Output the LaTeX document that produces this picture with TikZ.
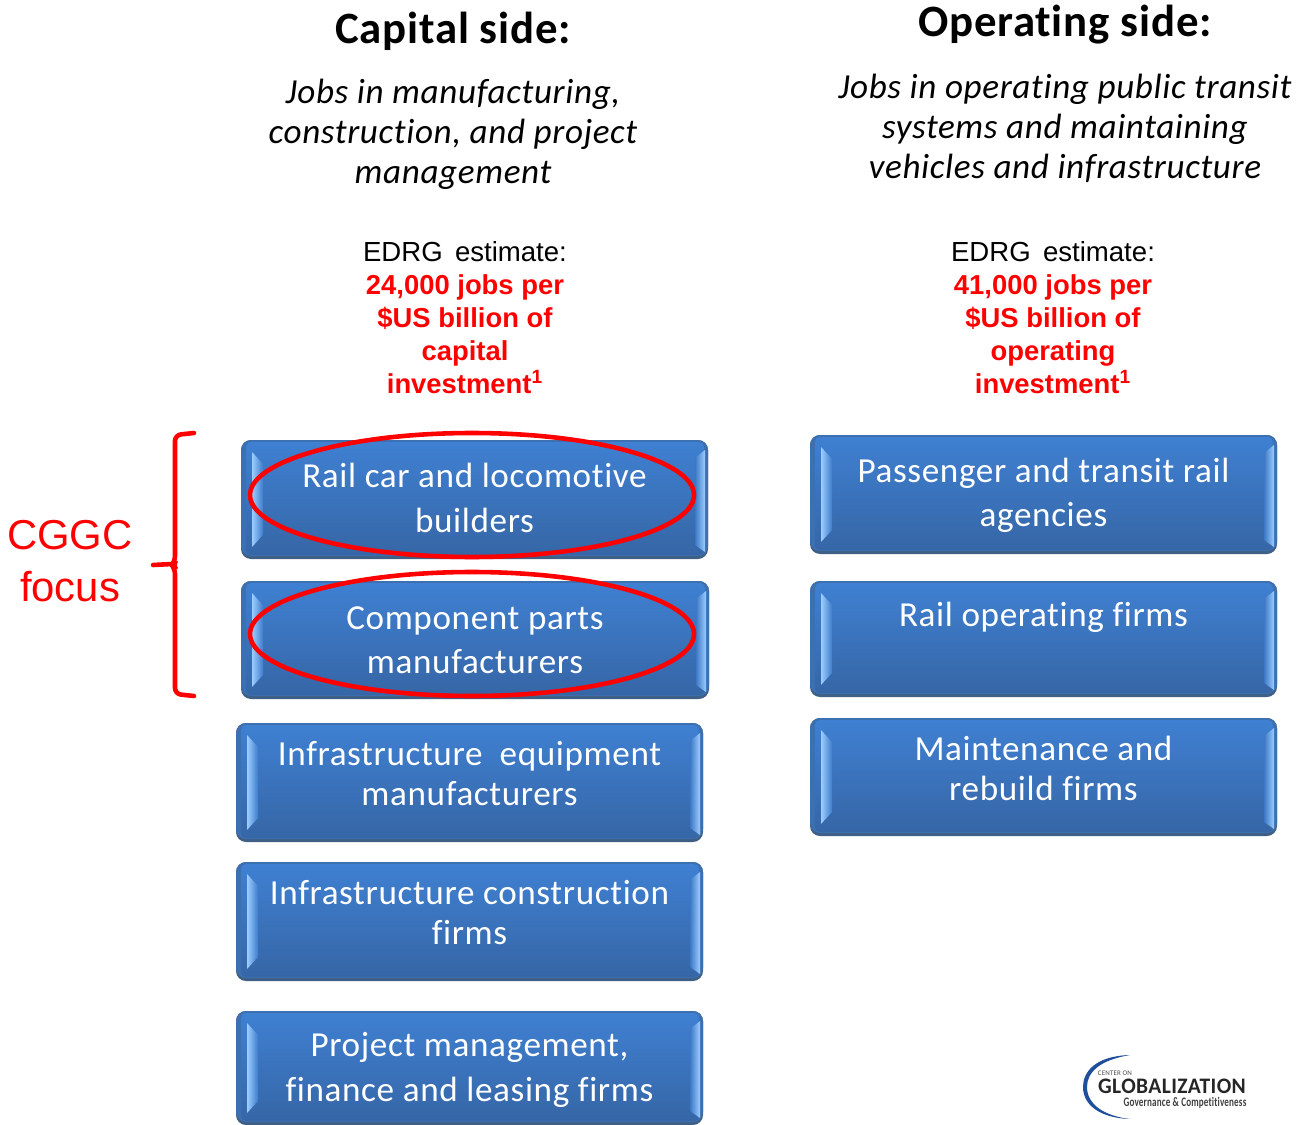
\documentclass[tikz,border=0pt]{standalone}
\usepackage{fontspec}
\setmainfont{Carlito}[LetterSpace=1.8,Ligatures=NoCommon]
\newfontfamily\arialfont{Liberation Sans}
\usetikzlibrary{calc}

\definecolor{rimblue}{HTML}{3C70B0}
\definecolor{rimdark}{HTML}{3F5F85}
\definecolor{boxtop}{HTML}{3F80D2}
\definecolor{boxbot}{HTML}{3666A6}
\definecolor{bevellight}{HTML}{9CCDFF}
\definecolor{logoblue}{HTML}{1F4E9A}

\tikzset{%
    heading/.style={font=\fontsize{25.5}{30}\selectfont\bfseries,inner sep=0},
    jobdesc/.style={font=\fontsize{20}{22.7}\selectfont\itshape,align=center,inner sep=0},
    estimate/.style={font=\arialfont\fontsize{15.7}{18.7}\selectfont,inner sep=0},
    estimred/.style={font=\arialfont\fontsize{15.6}{18.7}\selectfont\bfseries,text=red,align=center,inner sep=0},
    jobtext/.style={font=\fontsize{20}{22.7}\selectfont,text=white,align=center,inner sep=0},
    focusline/.style={red,line width=2.6pt},
}

%\jobbox{name}{left}{top}{right}{bottom}{texty}{text}
\newcommand*{\jobbox}[7]{%
	\fill [rimdark, rounded corners=0.2cm] (#2,#3) rectangle (#4,#5);
	\fill [rimblue, rounded corners=0.2cm] (#2,#3) rectangle (#4,#5-3);
	\shade [top color=boxtop, bottom color=boxbot, rounded corners=0.1cm] (#2+5,#3+2) rectangle (#4-4,#5-4);
	\shade [left color=bevellight, right color=boxtop!85!boxbot] (#2+11,#3+12) -- (#2+22,#3+24) -- (#2+22,#5-24) -- (#2+11,#5-12) -- cycle;
	\shade [left color=boxtop!70!boxbot, right color=bevellight] (#4-13,#3+18) -- (#4-3,#3+10) -- (#4-3,#5-7) -- (#4-13,#5-14) -- cycle;
	\node [jobtext] (#1) at ({(#2+#4)/2},#6) {#7};
}

\begin{document}
\begin{tikzpicture}[x=0.02cm,y=-0.02cm]

\def\capx{453}
\def\opx{1065}
\def\estcapx{465}
\def\estopx{1053}

\useasboundingbox (0,0) rectangle (1305,1125);

% headings
\node [heading] (caphead) at (\capx,31) {Capital side:};
\node [heading] (ophead) at (\opx,25) {Operating side:};

\node [jobdesc] (capdesc) at (\capx,134) {Jobs in manufacturing,\\construction, and project\\management};
\node [jobdesc] (opdesc) at (\opx,128) {Jobs in operating public transit\\systems and maintaining\\vehicles and infrastructure};

% estimates
\node [estimate] (capest) at (\estcapx,252) {EDRG\ \,estimate:};
\node [estimate] (opest) at (\estopx,252) {EDRG\ \,estimate:};
\node [estimred] (capjobs) at (\estcapx,334) {24,000 jobs per\\\$US billion of\\capital\\investment\textsuperscript{1}};
\node [estimred] (opjobs) at (\estopx,334) {41,000 jobs per\\\$US billion of\\operating\\investment\textsuperscript{1}};

% capital boxes
\jobbox{railcar}{241}{440}{708}{559}{498}{Rail car and locomotive\\[2.5pt]builders}
\jobbox{parts}{241}{581}{709}{699}{640.5}{Component parts\\[2.5pt]manufacturers}
\jobbox{equip}{236}{723}{703}{842}{773.5}{Infrastructure\ \ equipment\\manufacturers}
\jobbox{constr}{236}{862}{703}{981}{912.5}{Infrastructure construction\\firms}
\jobbox{project}{236}{1011}{703}{1125}{1070}{Project management,\\[2.5pt]finance and leasing firms}

% operating boxes
\jobbox{agencies}{810}{435}{1277}{554}{495.5}{Passenger and transit rail\\[2.5pt]agencies}
\jobbox{railop}{810}{581}{1277}{697}{617}{Rail operating firms}
\jobbox{rebuild}{810}{718}{1277}{836}{768.5}{Maintenance and\\rebuild firms}

% CGGC focus
\draw [focusline] (472,495) ellipse [x radius=222, y radius=62];
\draw [focusline] (472,634) ellipse [x radius=222, y radius=62];
\draw [focusline, line cap=round, rounded corners=0.12cm] (194,433) -- (175,435) -- (175,562) -- (172,565) -- (175,568) -- (175,694) -- (194,696);
\draw [focusline, line cap=round] (153,565) -- (172,564);
\node [font=\arialfont\fontsize{23.8}{29.5}\selectfont, text=red, align=center, inner sep=0] (focus) at (70,561) {CGGC\\focus};

% logo
\fill [logoblue] (1130,1055) .. controls (1095,1056) and (1083,1072) .. (1083,1087) .. controls (1083,1105) and (1100,1118) .. (1130,1119) .. controls (1105,1116) and (1087,1105) .. (1087,1087) .. controls (1087,1072) and (1100,1060) .. (1130,1055);
\node [font=\fontsize{4}{5}\selectfont, text=black!70, inner sep=0] (center) at (1115,1073) {CENTER ON};
\node [font=\fontsize{12.6}{14}\selectfont\bfseries, text=black!85, xscale=0.97, inner sep=0] (glob) at (1172,1086) {GLOBALIZATION};
\node [font=\fontsize{7.4}{9}\selectfont\bfseries, text=black!75, xscale=0.7, inner sep=0] (gov) at (1185,1103) {Governance \& Competitiveness};

\end{tikzpicture}
\end{document}
